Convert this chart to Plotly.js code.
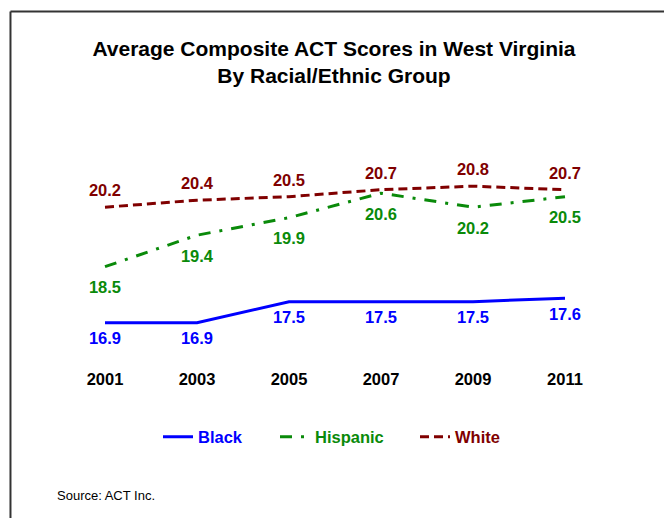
<!DOCTYPE html>
<html>
<head>
<meta charset="utf-8">
<script src="https://cdn.plot.ly/plotly-3.0.1.min.js"></script>
<style>
  html, body { margin: 0; padding: 0; background: #fff; }
  #chart { width: 664px; height: 518px; }
</style>
</head>
<body>
<div id="chart"></div>
<script>
const years = [2001, 2003, 2005, 2007, 2009, 2011];
const yearLabels = ['2001', '2003', '2005', '2007', '2009', '2011'];
const black = [16.9, 16.9, 17.5, 17.5, 17.5, 17.6];
const hispanic = [18.5, 19.4, 19.9, 20.6, 20.2, 20.5];
const white = [20.2, 20.4, 20.5, 20.7, 20.8, 20.7];

const FONT = 'Liberation Sans, Arial, sans-serif';
const BLUE = '#0000FF', GREEN = '#0A8A0A', RED = '#800000';
const FS = 16.5;

function fmt(a) { return a.map(v => v.toFixed(1)); }
function legendFor(xPx) {
  return {
    orientation: 'h', xref: 'container', yref: 'container',
    x: xPx / 664, xanchor: 'left', y: 1 - 437 / 518, yanchor: 'middle',
    font: { family: FONT, size: FS, weight: 'bold' }, itemwidth: 30,
    bgcolor: 'rgba(0,0,0,0)', borderwidth: 0
  };
}

const traces = [
  {
    x: years, y: black, name: '<span style="color:' + BLUE + '">Black</span>', legend: 'legend',
    mode: 'lines+markers+text', text: fmt(black), textposition: 'bottom center',
    textfont: { family: FONT, size: FS, color: BLUE, weight: 'bold' },
    marker: { size: 13, color: 'rgba(0,0,0,0)' },
    line: { color: BLUE, width: 3, dash: 'solid' }, hoverinfo: 'skip'
  },
  {
    x: years, y: hispanic, name: '<span style="color:' + GREEN + '">Hispanic</span>', legend: 'legend2',
    mode: 'lines+markers+text', text: fmt(hispanic), textposition: 'bottom center',
    textfont: { family: FONT, size: FS, color: GREEN, weight: 'bold' },
    marker: { size: 21, color: 'rgba(0,0,0,0)' },
    line: { color: GREEN, width: 3, dash: '12px,9px,3px,9px' }, hoverinfo: 'skip'
  },
  {
    x: years, y: white, name: '<span style="color:' + RED + '">White</span>', legend: 'legend3',
    mode: 'lines+markers+text', text: fmt(white), textposition: 'top center',
    textfont: { family: FONT, size: FS, color: RED, weight: 'bold' },
    marker: { size: 9, color: 'rgba(0,0,0,0)' },
    line: { color: RED, width: 3, dash: '9px,5px' }, hoverinfo: 'skip'
  }
];

const layout = {
  width: 664, height: 518,
  paper_bgcolor: '#fff', plot_bgcolor: '#fff',
  margin: { l: 59, r: 53, t: 150, b: 151, pad: 0 },
  font: { family: FONT, color: '#000' },
  title: {
    text: '<b>Average Composite ACT Scores in West Virginia<br>By Racial/Ethnic Group</b>',
    font: { family: FONT, size: 21, color: '#000', weight: 'bold' },
    x: 0.503, xanchor: 'center', xref: 'container',
    y: 0.8926, yanchor: 'middle', yref: 'container'
  },
  xaxis: {
    range: [2000, 2012], tickvals: years, ticktext: yearLabels,
    showgrid: false, zeroline: false, showline: false, ticks: '',
    tickfont: { family: FONT, size: FS, color: '#000', weight: 'bold' },
    fixedrange: true
  },
  yaxis: {
    range: [15.634, 21.834], showgrid: false, zeroline: false, showline: false,
    showticklabels: false, ticks: '', fixedrange: true
  },
  showlegend: true,
  legend: legendFor(158),
  legend2: legendFor(275),
  legend3: legendFor(415),
  shapes: [
    { type: 'line', xref: 'paper', yref: 'paper', x0: -0.0879, x1: -0.0879, y0: 1.6382, y1: -0.8,
      line: { color: '#333', width: 2 } },
    { type: 'line', xref: 'paper', yref: 'paper', x0: -0.0879, x1: 1.15, y0: 1.6382, y1: 1.6382,
      line: { color: '#333', width: 2 } }
  ],
  annotations: [
    { text: 'Source: ACT Inc.', xref: 'paper', yref: 'paper', x: -0.008, y: -0.590,
      xanchor: 'left', yanchor: 'middle', showarrow: false,
      font: { family: FONT, size: 13, color: '#000' } }
  ]
};

Plotly.newPlot('chart', traces, layout, { displayModeBar: false, staticPlot: true });
</script>
</body>
</html>
